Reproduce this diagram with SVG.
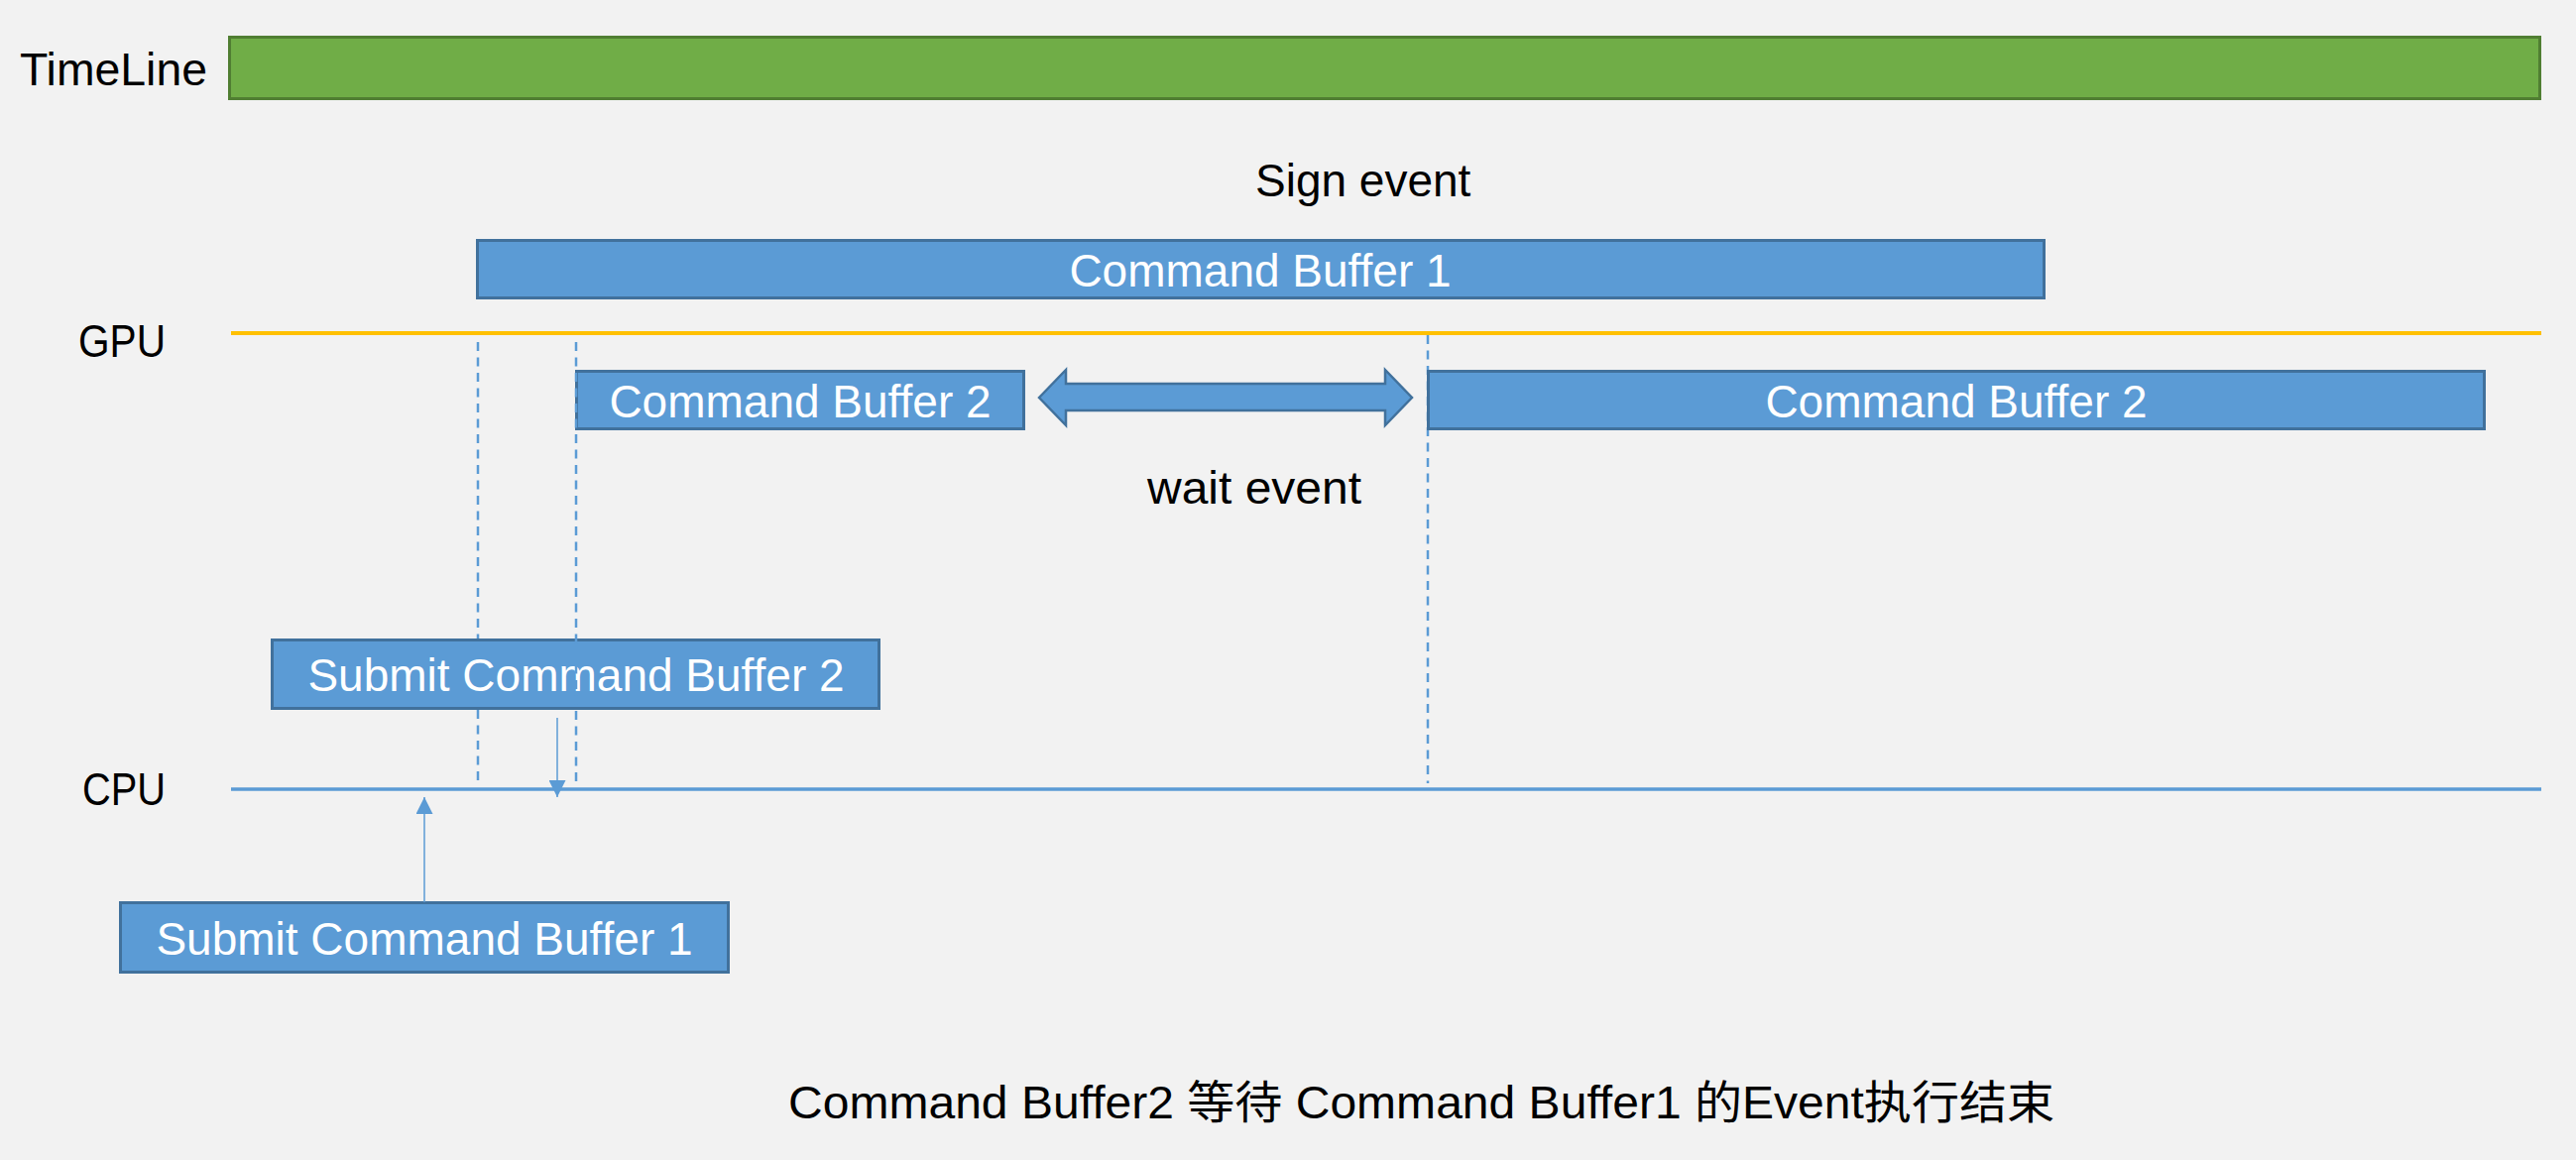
<svg xmlns="http://www.w3.org/2000/svg" width="2598" height="1170" viewBox="0 0 2598 1170">
<style>
.bg{fill:#F2F2F2}
.box{fill:#5B9BD5;stroke:#41719C;stroke-width:3}
.btxt{font-family:"Liberation Sans",Arial,sans-serif;font-size:46px;fill:#FFFFFF;text-anchor:middle}
.lbl{font-family:"Liberation Sans",Arial,"Noto Sans CJK SC",sans-serif;font-size:46px;fill:#000000}
.dash{stroke:#5B9BD5;stroke-width:2.5;stroke-dasharray:9 6.5;fill:none}
.conn{stroke:#5B9BD5;stroke-width:1.5;fill:none}
</style>
<defs>
<marker id="ah" viewBox="0 0 17 17" refX="17" refY="8.5" markerWidth="17" markerHeight="17" markerUnits="userSpaceOnUse" orient="auto">
<path d="M0,0 L17,8.5 L0,17 z" fill="#5B9BD5"/>
</marker>
</defs>
<rect class="bg" x="0" y="0" width="2598" height="1170"/>

<g id="timeline">
<text class="lbl" x="20" y="86" textLength="189" lengthAdjust="spacingAndGlyphs">TimeLine</text>
<rect x="231.5" y="37.5" width="2330" height="62" fill="#70AD47" stroke="#507E32" stroke-width="3"/>
</g>

<g id="gpu-axis">
<text class="lbl" x="79" y="360" textLength="88" lengthAdjust="spacingAndGlyphs">GPU</text>
<line x1="233" y1="336" x2="2563" y2="336" stroke="#FFC000" stroke-width="4"/>
</g>

<g id="cpu-axis">
<text class="lbl" x="83" y="812" textLength="84" lengthAdjust="spacingAndGlyphs">CPU</text>
<line x1="233" y1="796" x2="2563" y2="796" stroke="#5B9BD5" stroke-width="3.5"/>
</g>

<g id="guides">
<line class="dash" x1="482" y1="345" x2="482" y2="645"/>
<line class="dash" x1="482" y1="716" x2="482" y2="790"/>
<line class="dash" x1="1440" y1="338" x2="1440" y2="790"/>
</g>

<g id="sign-event">
<text class="lbl" x="1266" y="198">Sign event</text>
</g>

<g id="cb1">
<rect class="box" x="481.5" y="242.5" width="1580" height="58"/>
<text class="btxt" x="1271" y="289">Command Buffer 1</text>
</g>

<g id="cb2-a">
<rect class="box" x="581.5" y="374.5" width="451" height="58"/>
<text class="btxt" x="807" y="421">Command Buffer 2</text>
</g>

<g id="wait-arrow">
<polygon points="1048,401 1075,373 1075,387 1397,387 1397,373 1424,401 1397,429 1397,414 1075,414 1075,429" fill="#5B9BD5" stroke="#41719C" stroke-width="2.5" stroke-linejoin="miter"/>
</g>

<g id="wait-event">
<text class="lbl" x="1157" y="508" textLength="216" lengthAdjust="spacingAndGlyphs">wait event</text>
</g>

<g id="cb2-b">
<rect class="box" x="1440.5" y="374.5" width="1065" height="58"/>
<text class="btxt" x="1973" y="421">Command Buffer 2</text>
</g>

<g id="submit-cb2">
<rect class="box" x="274.5" y="645.5" width="612" height="69"/>
<text class="btxt" x="581" y="697">Submit Command Buffer 2</text>
</g>

<g id="submit-cb1">
<rect class="box" x="121.5" y="910.5" width="613" height="70"/>
<text class="btxt" x="428" y="963">Submit Command Buffer 1</text>
</g>

<g id="guide-cb2">
<line class="dash" x1="581" y1="345" x2="581" y2="790"/>
</g>

<g id="connectors">
<line class="conn" x1="562" y1="724" x2="562" y2="804" marker-end="url(#ah)"/>
<line class="conn" x1="428" y1="910" x2="428" y2="804" marker-end="url(#ah)"/>
</g>

<g id="caption">
<text class="lbl" x="795" y="1128" textLength="1277" lengthAdjust="spacingAndGlyphs">Command Buffer2 等待 Command Buffer1 的Event执行结束</text>
</g>
</svg>
